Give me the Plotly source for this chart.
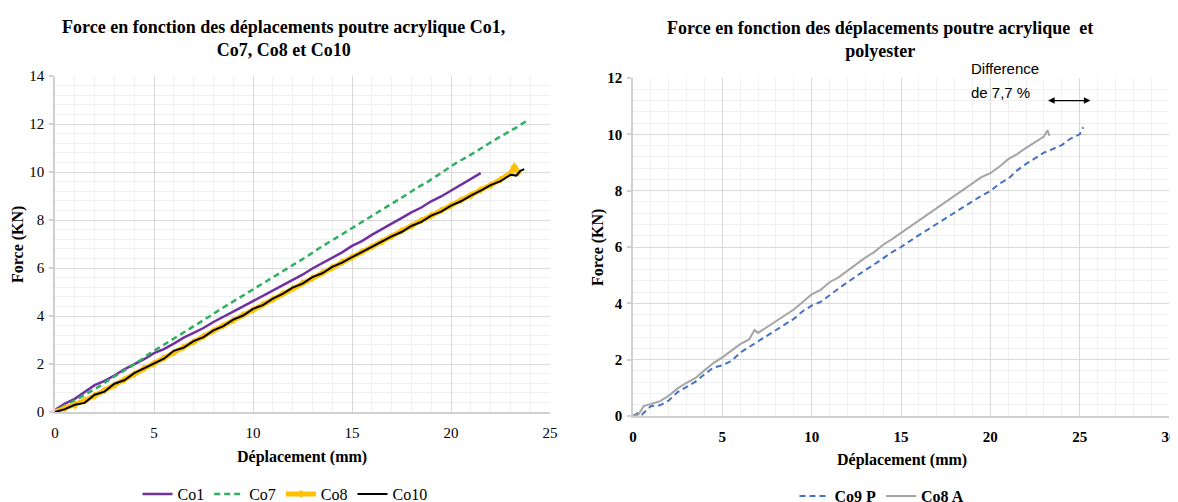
import plotly.graph_objects as go

# ---------------- Data ----------------
co1_x = [0, 0.5, 1, 1.5, 2, 2.5, 3, 3.5, 4, 4.5, 5, 5.5, 6, 6.5, 7, 7.5, 8, 8.5, 9, 9.5, 10, 10.5,
         11, 11.5, 12, 12.5, 13, 13.5, 14, 14.5, 15, 15.5, 16, 16.5, 17, 17.5, 18, 18.5, 19, 19.5,
         20, 20.5, 21, 21.5]
co1_y = [0.08, 0.35, 0.55, 0.85, 1.12, 1.30, 1.52, 1.78, 1.98, 2.20, 2.45, 2.62, 2.85, 3.10, 3.30,
         3.50, 3.75, 3.95, 4.18, 4.40, 4.62, 4.85, 5.05, 5.28, 5.52, 5.72, 5.98, 6.20, 6.45, 6.65,
         6.92, 7.12, 7.38, 7.60, 7.85, 8.08, 8.32, 8.52, 8.78, 8.98, 9.22, 9.45, 9.68, 9.95]

co7_x = [0.3, 0.8, 1.3, 1.8, 2.3, 2.8, 3.3, 3.8, 4.3, 4.8, 5.3, 5.8, 6.3, 6.8, 7.3, 7.8, 8.3, 8.8,
         9.3, 9.8, 10.3, 10.8, 11.3, 11.8, 12.3, 12.8, 13.3, 13.8, 14.3, 14.8, 15.3, 15.8, 16.3,
         16.8, 17.3, 17.8, 18.3, 18.8, 19.3, 19.8, 20.3, 20.8, 21.3, 21.8, 22.3, 22.8, 23.3, 23.8]
co7_y = [0.18, 0.38, 0.62, 0.85, 1.10, 1.38, 1.62, 1.88, 2.15, 2.45, 2.70, 2.95, 3.20, 3.45, 3.72,
         3.98, 4.25, 4.50, 4.75, 5.02, 5.25, 5.52, 5.78, 6.02, 6.28, 6.52, 6.80, 7.05, 7.30, 7.55,
         7.82, 8.05, 8.32, 8.55, 8.80, 9.08, 9.35, 9.58, 9.85, 10.12, 10.40, 10.62, 10.88, 11.12,
         11.38, 11.62, 11.85, 12.12]

co8_x = [0, 0.5, 1, 1.5, 2, 2.5, 3, 3.5, 4, 4.5, 5, 5.5, 6, 6.5, 7, 7.5, 8, 8.5, 9, 9.5, 10, 10.5,
         11, 11.5, 12, 12.5, 13, 13.5, 14, 14.5, 15, 15.5, 16, 16.5, 17, 17.5, 18, 18.5, 19, 19.5,
         20, 20.5, 21, 21.5, 22, 22.5, 23, 23.2, 23.4]
co8_y = [0.0, 0.15, 0.28, 0.48, 0.68, 0.90, 1.12, 1.35, 1.58, 1.82, 2.02, 2.25, 2.48, 2.70, 2.92,
         3.15, 3.38, 3.60, 3.82, 4.05, 4.25, 4.48, 4.70, 4.92, 5.15, 5.38, 5.58, 5.80, 6.02, 6.25,
         6.45, 6.68, 6.88, 7.10, 7.32, 7.55, 7.75, 7.98, 8.18, 8.40, 8.60, 8.82, 9.02, 9.25, 9.45,
         9.68, 9.95, 10.22, 9.98]

co10_x = [0, 0.5, 1, 1.5, 2, 2.5, 3, 3.5, 4, 4.5, 5, 5.5, 6, 6.5, 7, 7.5, 8, 8.5, 9, 9.5, 10, 10.5,
          11, 11.5, 12, 12.5, 13, 13.5, 14, 14.5, 15, 15.5, 16, 16.5, 17, 17.5, 18, 18.5, 19, 19.5,
          20, 20.5, 21, 21.5, 22, 22.5, 23, 23.3, 23.5, 23.7]
co10_y = [0.0, 0.12, 0.30, 0.38, 0.72, 0.85, 1.18, 1.32, 1.62, 1.82, 2.05, 2.22, 2.55, 2.68, 2.95,
          3.12, 3.40, 3.58, 3.85, 4.02, 4.30, 4.45, 4.72, 4.92, 5.18, 5.35, 5.62, 5.78, 6.05, 6.22,
          6.45, 6.68, 6.88, 7.10, 7.32, 7.50, 7.75, 7.92, 8.18, 8.35, 8.60, 8.78, 9.02, 9.22, 9.45,
          9.62, 9.88, 9.85, 10.05, 10.12]

co9p_x = [0, 0.3, 0.5, 1, 1.5, 2, 2.5, 3, 3.5, 4, 4.5, 5, 5.5, 6, 6.5, 7, 7.5, 8, 8.5, 9, 9.5, 10,
          10.5, 11, 11.5, 12, 12.5, 13, 13.5, 14, 14.5, 15, 15.5, 16, 16.5, 17, 17.5, 18, 18.5, 19,
          19.5, 20, 20.5, 21, 21.5, 22, 22.5, 23, 23.5, 24, 24.5, 25, 25.2]
co9p_y = [0.0, 0.12, 0.05, 0.35, 0.38, 0.55, 0.85, 1.05, 1.22, 1.48, 1.72, 1.80, 1.95, 2.25, 2.45,
          2.65, 2.85, 3.08, 3.25, 3.45, 3.72, 3.92, 4.05, 4.30, 4.52, 4.75, 4.98, 5.18, 5.38, 5.60,
          5.82, 6.00, 6.22, 6.42, 6.62, 6.82, 7.02, 7.22, 7.42, 7.62, 7.82, 7.98, 8.25, 8.42, 8.72,
          8.95, 9.15, 9.35, 9.48, 9.62, 9.85, 10.00, 10.25]

co8a_x = [0, 0.3, 0.6, 1, 1.5, 2, 2.5, 3, 3.5, 4, 4.5, 5, 5.5, 6, 6.5, 6.8, 7, 7.5, 8, 8.5, 9, 9.5,
          10, 10.5, 11, 11.5, 12, 12.5, 13, 13.5, 14, 14.5, 15, 15.5, 16, 16.5, 17, 17.5, 18, 18.5,
          19, 19.5, 20, 20.5, 21, 21.5, 22, 22.5, 23, 23.2, 23.3]
co8a_y = [0.0, 0.05, 0.35, 0.42, 0.52, 0.72, 0.98, 1.18, 1.35, 1.62, 1.88, 2.08, 2.32, 2.55, 2.72,
          3.05, 2.95, 3.15, 3.38, 3.55, 3.78, 4.05, 4.32, 4.48, 4.75, 4.92, 5.15, 5.40, 5.62, 5.82,
          6.08, 6.28, 6.50, 6.72, 6.95, 7.15, 7.40, 7.62, 7.82, 8.05, 8.25, 8.48, 8.62, 8.85, 9.12,
          9.30, 9.52, 9.72, 9.92, 10.15, 9.95]

left_title = ["Force en fonction des déplacements poutre acrylique Co1,", "Co7, Co8 et Co10"]
right_title = ["Force en fonction des déplacements poutre acrylique  et", "polyester"]
x_label = "Déplacement (mm)"
y_label = "Force (KN)"
note_lines = ["Difference", "de 7,7 %"]

# ---------------- Figure ----------------
# the page body has an 8 px margin: the figure starts at (8, 8) in the window
OFF = 8
W, H = 1178 - OFF, 502 - OFF
def px(x):
    return (x - OFF) / W
def py(y):
    return 1 - (y - OFF) / H

SERIF = "Liberation Serif, Times New Roman, serif"
SANS = "Liberation Sans, Arial, sans-serif"

fig = go.Figure()

fig.add_trace(go.Scatter(x=co1_x, y=co1_y, name="Co1", mode="lines",
                         line=dict(color="#7030A0", width=2.5), xaxis="x", yaxis="y", legend="legend"))
fig.add_trace(go.Scatter(x=co7_x, y=co7_y, name="Co7", mode="lines",
                         line=dict(color="#2EB061", width=2.5, dash="6px,4px"), xaxis="x", yaxis="y",
                         legend="legend"))
fig.add_trace(go.Scatter(x=co8_x, y=co8_y, name="Co8", mode="lines+markers",
                         line=dict(color="#FFC000", width=5),
                         marker=dict(symbol="diamond", size=6, color="#FFC000"),
                         xaxis="x", yaxis="y", legend="legend"))
fig.add_trace(go.Scatter(x=co10_x, y=co10_y, name="Co10", mode="lines",
                         line=dict(color="#000000", width=2), xaxis="x", yaxis="y", legend="legend"))

fig.add_trace(go.Scatter(x=co9p_x, y=co9p_y, name="Co9 P", mode="lines",
                         line=dict(color="#4472C4", width=2, dash="6px,4px"), xaxis="x2", yaxis="y2",
                         legend="legend2"))
fig.add_trace(go.Scatter(x=co8a_x, y=co8a_y, name="Co8 A", mode="lines",
                         line=dict(color="#A5A5A5", width=2), xaxis="x2", yaxis="y2", legend="legend2"))

grid_major = "#D9D9D9"
grid_minor = "#F0F0F0"

def xaxis_style(bold):
    return dict(
        showgrid=True, gridcolor=grid_major, gridwidth=1,
        showline=True, linecolor="#D0D0D0", linewidth=1.5,
        zeroline=False, ticks="", automargin=False, ticklabelstandoff=6,
        tickfont=dict(family=SERIF, size=15, color="#000000",
                      weight="bold" if bold else "normal"),
    )

def yaxis_style(bold):
    d = xaxis_style(bold)
    d.update(ticks="outside", ticklen=4, tickcolor="#D0D0D0", tickwidth=1.5, ticklabelstandoff=2)
    return d

fig.update_layout(
    width=W, height=H,
    margin=dict(l=0, r=0, t=0, b=0, autoexpand=False),
    paper_bgcolor="white", plot_bgcolor="white",
    xaxis=dict(domain=[px(55), px(550)], range=[0, 25], dtick=5, anchor="y",
               minor=dict(dtick=1, showgrid=True, gridcolor=grid_minor),
               **xaxis_style(False)),
    yaxis=dict(domain=[py(412), py(76)], range=[0, 14], dtick=2, anchor="x",
               minor=dict(dtick=0.4, showgrid=True, gridcolor=grid_minor),
               **yaxis_style(False)),
    xaxis2=dict(domain=[px(633), px(1169)], range=[0, 30], dtick=5, anchor="y2",
                minor=dict(dtick=1, showgrid=True, gridcolor=grid_minor),
                **xaxis_style(True)),
    yaxis2=dict(domain=[py(416), py(78)], range=[0, 12], dtick=2, anchor="x2",
                minor=dict(dtick=0.4, showgrid=True, gridcolor=grid_minor),
                **yaxis_style(True)),
    legend=dict(orientation="h", x=px(285), xanchor="center", y=py(494), yanchor="middle",
                font=dict(family=SERIF, size=16, color="#000000"), bgcolor="rgba(0,0,0,0)",
                itemwidth=30),
    legend2=dict(orientation="h", x=px(882), xanchor="center", y=py(496), yanchor="middle",
                 font=dict(family=SERIF, size=16, color="#000000", weight="bold"),
                 bgcolor="rgba(0,0,0,0)", itemwidth=30),
    showlegend=True,
)

def ann(text, x, y, size, family=SERIF, angle=0, xanchor="center"):
    return dict(text=text, x=px(x), y=py(y), xref="paper", yref="paper", showarrow=False,
                xanchor=xanchor, yanchor="middle", align="center" if xanchor == "center" else "left",
                textangle=angle, font=dict(family=family, size=size, color="#000000"))

annotations = [
    ann("<br>".join("<b>" + t + "</b>" for t in left_title), 283, 38, 18),
    ann("<br>".join("<b>" + t + "</b>" for t in right_title), 880, 40, 18),
    ann("<b>" + x_label + "</b>", 302, 457, 16),
    ann("<b>" + x_label + "</b>", 902, 460, 16),
    ann("<b>" + y_label + "</b>", 18, 245, 16, angle=-90),
    ann("<b>" + y_label + "</b>", 598, 248, 16, angle=-90),
    ann(note_lines[0], 969, 68, 15, family=SANS, xanchor="left"),
    ann(note_lines[1], 969, 92, 15, family=SANS, xanchor="left"),
    dict(x=25.6, y=11.2, ax=23.15, ay=11.2, xref="x2", yref="y2", axref="x2", ayref="y2",
         text="", showarrow=True, arrowhead=2, startarrowhead=2, arrowside="end+start",
         arrowsize=1, arrowwidth=1.3, arrowcolor="#000000", standoff=0, startstandoff=0),
]
fig.update_layout(annotations=annotations)

fig.write_html("out.html")
